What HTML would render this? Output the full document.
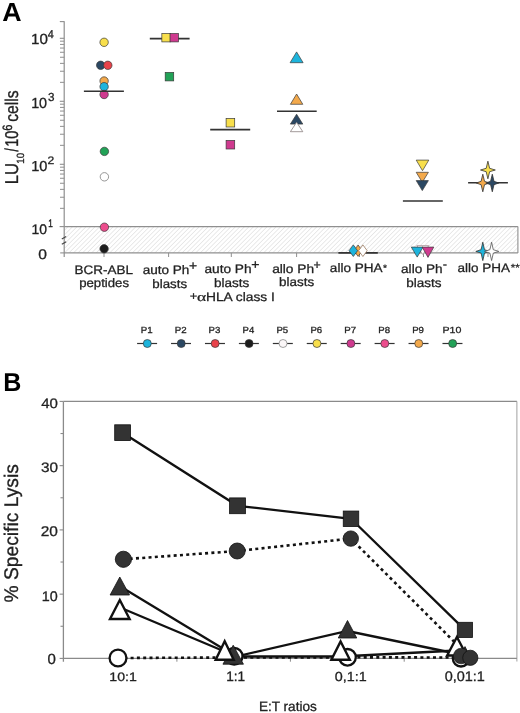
<!DOCTYPE html>
<html><head><meta charset="utf-8"><style>
html,body{margin:0;padding:0;background:#fff;width:520px;height:713px;overflow:hidden;}
svg{display:block;will-change:transform;text-rendering:geometricPrecision;}

</style></head><body>
<svg width="520" height="713" viewBox="0 0 520 713">
<defs><pattern id="h" patternUnits="userSpaceOnUse" width="3.2" height="3.2" patternTransform="rotate(45)"><line x1="0" y1="0" x2="0" y2="3.2" stroke="#d6d6d6" stroke-width="1"/></pattern></defs>
<rect width="520" height="713" fill="#fff"/>
<rect x="64.2" y="226.6" width="453.7" height="26.3" fill="url(#h)"/>
<line x1="64.2" y1="226.6" x2="517.9" y2="226.6" stroke="#8f8f8f" stroke-width="1.3"/>
<line x1="64.2" y1="252.9" x2="517.9" y2="252.9" stroke="#8f8f8f" stroke-width="1.3"/>
<line x1="517.9" y1="226.6" x2="517.9" y2="252.9" stroke="#8f8f8f" stroke-width="1.1"/>
<line x1="64.2" y1="21.2" x2="64.2" y2="257" stroke="#8f8f8f" stroke-width="1.2"/>
<line x1="59.8" y1="38.3" x2="64.2" y2="38.3" stroke="#8f8f8f" stroke-width="1.1"/>
<line x1="60" y1="82.34" x2="64.2" y2="82.34" stroke="#8f8f8f" stroke-width="1.0"/>
<line x1="60" y1="71.24" x2="64.2" y2="71.24" stroke="#8f8f8f" stroke-width="1.0"/>
<line x1="60" y1="63.37" x2="64.2" y2="63.37" stroke="#8f8f8f" stroke-width="1.0"/>
<line x1="60" y1="57.26" x2="64.2" y2="57.26" stroke="#8f8f8f" stroke-width="1.0"/>
<line x1="60" y1="52.28" x2="64.2" y2="52.28" stroke="#8f8f8f" stroke-width="1.0"/>
<line x1="60" y1="48.06" x2="64.2" y2="48.06" stroke="#8f8f8f" stroke-width="1.0"/>
<line x1="60" y1="44.41" x2="64.2" y2="44.41" stroke="#8f8f8f" stroke-width="1.0"/>
<line x1="60" y1="41.18" x2="64.2" y2="41.18" stroke="#8f8f8f" stroke-width="1.0"/>
<line x1="59.8" y1="101.3" x2="64.2" y2="101.3" stroke="#8f8f8f" stroke-width="1.1"/>
<line x1="60" y1="145.34" x2="64.2" y2="145.34" stroke="#8f8f8f" stroke-width="1.0"/>
<line x1="60" y1="134.24" x2="64.2" y2="134.24" stroke="#8f8f8f" stroke-width="1.0"/>
<line x1="60" y1="126.37" x2="64.2" y2="126.37" stroke="#8f8f8f" stroke-width="1.0"/>
<line x1="60" y1="120.26" x2="64.2" y2="120.26" stroke="#8f8f8f" stroke-width="1.0"/>
<line x1="60" y1="115.28" x2="64.2" y2="115.28" stroke="#8f8f8f" stroke-width="1.0"/>
<line x1="60" y1="111.06" x2="64.2" y2="111.06" stroke="#8f8f8f" stroke-width="1.0"/>
<line x1="60" y1="107.41" x2="64.2" y2="107.41" stroke="#8f8f8f" stroke-width="1.0"/>
<line x1="60" y1="104.18" x2="64.2" y2="104.18" stroke="#8f8f8f" stroke-width="1.0"/>
<line x1="59.8" y1="164.3" x2="64.2" y2="164.3" stroke="#8f8f8f" stroke-width="1.1"/>
<line x1="60" y1="208.34" x2="64.2" y2="208.34" stroke="#8f8f8f" stroke-width="1.0"/>
<line x1="60" y1="197.24" x2="64.2" y2="197.24" stroke="#8f8f8f" stroke-width="1.0"/>
<line x1="60" y1="189.37" x2="64.2" y2="189.37" stroke="#8f8f8f" stroke-width="1.0"/>
<line x1="60" y1="183.26" x2="64.2" y2="183.26" stroke="#8f8f8f" stroke-width="1.0"/>
<line x1="60" y1="178.28" x2="64.2" y2="178.28" stroke="#8f8f8f" stroke-width="1.0"/>
<line x1="60" y1="174.06" x2="64.2" y2="174.06" stroke="#8f8f8f" stroke-width="1.0"/>
<line x1="60" y1="170.41" x2="64.2" y2="170.41" stroke="#8f8f8f" stroke-width="1.0"/>
<line x1="60" y1="167.18" x2="64.2" y2="167.18" stroke="#8f8f8f" stroke-width="1.0"/>
<line x1="59.8" y1="21.6" x2="64.2" y2="21.6" stroke="#8f8f8f" stroke-width="1.1"/>
<line x1="59.6" y1="226.6" x2="64.2" y2="226.6" stroke="#8f8f8f" stroke-width="1.1"/>
<line x1="60.2" y1="252.9" x2="64.2" y2="252.9" stroke="#8f8f8f" stroke-width="1.1"/>
<path d="M61.8,239 L66.2,236.6 M61.8,244.2 L66.2,241.8" stroke="#444" stroke-width="1.1" fill="none"/>
<line x1="104" y1="252.9" x2="104" y2="257" stroke="#8f8f8f" stroke-width="1.0"/>
<line x1="168.6" y1="252.9" x2="168.6" y2="257" stroke="#8f8f8f" stroke-width="1.0"/>
<line x1="231.3" y1="252.9" x2="231.3" y2="257" stroke="#8f8f8f" stroke-width="1.0"/>
<line x1="296.6" y1="252.9" x2="296.6" y2="257" stroke="#8f8f8f" stroke-width="1.0"/>
<line x1="359.5" y1="252.9" x2="359.5" y2="257" stroke="#8f8f8f" stroke-width="1.0"/>
<line x1="423.5" y1="252.9" x2="423.5" y2="257" stroke="#8f8f8f" stroke-width="1.0"/>
<line x1="488" y1="252.9" x2="488" y2="257" stroke="#8f8f8f" stroke-width="1.0"/>
<circle cx="104.1" cy="42.3" r="4.2" fill="#f8df4c" stroke="#3a3a3a" stroke-width="0.7"/>
<circle cx="100.7" cy="65.3" r="4.2" fill="#2b4863" stroke="#3a3a3a" stroke-width="0.7"/>
<circle cx="107.8" cy="65.3" r="4.2" fill="#e8424a" stroke="#3a3a3a" stroke-width="0.7"/>
<circle cx="104.1" cy="81" r="4.2" fill="#f3a94b" stroke="#3a3a3a" stroke-width="0.7"/>
<circle cx="104.1" cy="86.7" r="4.2" fill="#1db4dc" stroke="#3a3a3a" stroke-width="0.7"/>
<circle cx="104.1" cy="94.5" r="4.2" fill="#cf3a8f" stroke="#3a3a3a" stroke-width="0.7"/>
<line x1="83.9" y1="91.2" x2="123.9" y2="91.2" stroke="#333" stroke-width="1.6"/>
<circle cx="104.4" cy="151.4" r="4.2" fill="#22a257" stroke="#3a3a3a" stroke-width="0.7"/>
<circle cx="104.4" cy="176.8" r="4.2" fill="#fff" stroke="#8a8a8a" stroke-width="0.9"/>
<circle cx="104.4" cy="227.2" r="4.2" fill="#ec4d8d" stroke="#3a3a3a" stroke-width="0.7"/>
<circle cx="104.1" cy="248.8" r="4.2" fill="#1c1c1c" stroke="#3a3a3a" stroke-width="0.7"/>
<line x1="149.8" y1="38.6" x2="189.6" y2="38.6" stroke="#333" stroke-width="1.6"/>
<rect x="161.85" y="33.5" width="8.4" height="8.4" fill="#f8df4c" stroke="#3a3a3a" stroke-width="0.7"/>
<rect x="170.05" y="33.5" width="8.4" height="8.4" fill="#cf3a8f" stroke="#3a3a3a" stroke-width="0.7"/>
<rect x="165.2" y="72.4" width="8.5" height="8.5" fill="#22a257" stroke="#3a3a3a" stroke-width="0.7"/>
<rect x="226.1" y="118.4" width="8.6" height="8.6" fill="#f8df4c" stroke="#3a3a3a" stroke-width="0.7"/>
<line x1="210.2" y1="129.6" x2="250.2" y2="129.6" stroke="#333" stroke-width="1.6"/>
<rect x="226.1" y="140.4" width="8.6" height="8.6" fill="#cf3a8f" stroke="#3a3a3a" stroke-width="0.7"/>
<path d="M296.6,51.9L303.1,62.7L290.1,62.7Z" fill="#1db4dc" stroke="#3a3a3a" stroke-width="0.7"/>
<path d="M296.6,94L302.8,104.3L290.4,104.3Z" fill="#f3a94b" stroke="#3a3a3a" stroke-width="0.7"/>
<line x1="277" y1="111.3" x2="316.7" y2="111.3" stroke="#333" stroke-width="1.6"/>
<path d="M296.6,114.2L302.8,124.1L290.4,124.1Z" fill="#2b4863" stroke="#3a3a3a" stroke-width="0.7"/>
<path d="M296.6,122.3L302.8,131.7L290.4,131.7Z" fill="#fff" stroke="#8a8080" stroke-width="0.8"/>
<line x1="338.4" y1="252.9" x2="377.8" y2="252.9" stroke="#333" stroke-width="1.6"/>
<path d="M358.1,245L362.3,250.7L358.1,256.4L353.9,250.7Z" fill="#f3a94b" stroke="#3a3a3a" stroke-width="0.7"/>
<path d="M353.3,244.9L357.6,250.7L353.3,256.5L349,250.7Z" fill="#1db4dc" stroke="#3a3a3a" stroke-width="0.7"/>
<path d="M362.9,244.9L367.2,250.7L362.9,256.5L358.6,250.7Z" fill="#fff" stroke="#9a7a60" stroke-width="0.8"/>
<path d="M416.2,160.1L428.8,160.1L422.5,170.7Z" fill="#f8df4c" stroke="#3a3a3a" stroke-width="0.7"/>
<path d="M416.2,172.3L428.4,172.3L422.3,182.3Z" fill="#f3a94b" stroke="#3a3a3a" stroke-width="0.7"/>
<path d="M416.2,180.6L428.4,180.6L422.3,190.6Z" fill="#2b4863" stroke="#3a3a3a" stroke-width="0.7"/>
<line x1="402.9" y1="201" x2="442.8" y2="201" stroke="#333" stroke-width="1.6"/>
<path d="M416.8,245.5L428.8,245.5L422.8,254.5Z" fill="#fff" stroke="#b09aa0" stroke-width="0.8"/>
<path d="M411.3,247.1L423.1,247.1L417.2,257.1Z" fill="#1db4dc" stroke="#3a3a3a" stroke-width="0.7"/>
<path d="M422.2,247.1L433.8,247.1L428,257.4Z" fill="#cf3a8f" stroke="#3a3a3a" stroke-width="0.7"/>
<line x1="468.1" y1="182.7" x2="507.9" y2="182.7" stroke="#333" stroke-width="1.6"/>
<path d="M487.9,161.2L489.6,168.3L495.3,170L489.6,171.7L487.9,178.8L486.2,171.7L480.5,170L486.2,168.3Z" fill="#f8df4c" stroke="#333" stroke-width="0.8" stroke-linejoin="round"/>
<path d="M482.8,174.2L484.5,181.3L489.3,183L484.5,184.7L482.8,191.8L481.1,184.7L476.3,183L481.1,181.3Z" fill="#f3a94b" stroke="#333" stroke-width="0.8" stroke-linejoin="round"/>
<path d="M492.3,174.2L494,181.3L498.8,183L494,184.7L492.3,191.8L490.6,184.7L485.8,183L490.6,181.3Z" fill="#2b4863" stroke="#333" stroke-width="0.8" stroke-linejoin="round"/>
<path d="M482.8,242.2L484.5,249.7L489.8,251.4L484.5,253.1L482.8,260.6L481.1,253.1L475.8,251.4L481.1,249.7Z" fill="#1db4dc" stroke="#333" stroke-width="0.8" stroke-linejoin="round"/>
<path d="M491.6,242.2L493.3,249.7L498.8,251.4L493.3,253.1L491.6,260.6L489.9,253.1L484.4,251.4L489.9,249.7Z" fill="#fff" stroke="#555" stroke-width="0.8" stroke-linejoin="round"/>
<line x1="137.1" y1="343.5" x2="157.1" y2="343.5" stroke="#333" stroke-width="1.2"/>
<circle cx="147.3" cy="343.5" r="4" fill="#1db4dc" stroke="#3a3a3a" stroke-width="0.7"/>
<line x1="171.03" y1="343.5" x2="191.03" y2="343.5" stroke="#333" stroke-width="1.2"/>
<circle cx="181.23" cy="343.5" r="4" fill="#2b4863" stroke="#3a3a3a" stroke-width="0.7"/>
<line x1="204.96" y1="343.5" x2="224.96" y2="343.5" stroke="#333" stroke-width="1.2"/>
<circle cx="215.16" cy="343.5" r="4" fill="#e8424a" stroke="#3a3a3a" stroke-width="0.7"/>
<line x1="238.89" y1="343.5" x2="258.89" y2="343.5" stroke="#333" stroke-width="1.2"/>
<circle cx="249.09" cy="343.5" r="4" fill="#1c1c1c" stroke="#3a3a3a" stroke-width="0.7"/>
<line x1="272.82" y1="343.5" x2="292.82" y2="343.5" stroke="#333" stroke-width="1.2"/>
<circle cx="283.02" cy="343.5" r="4" fill="#fbf7f8" stroke="#8a8a8a" stroke-width="0.8"/>
<line x1="306.75" y1="343.5" x2="326.75" y2="343.5" stroke="#333" stroke-width="1.2"/>
<circle cx="316.95" cy="343.5" r="4" fill="#f8df4c" stroke="#3a3a3a" stroke-width="0.7"/>
<line x1="340.68" y1="343.5" x2="360.68" y2="343.5" stroke="#333" stroke-width="1.2"/>
<circle cx="350.88" cy="343.5" r="4" fill="#cf3a8f" stroke="#3a3a3a" stroke-width="0.7"/>
<line x1="374.61" y1="343.5" x2="394.61" y2="343.5" stroke="#333" stroke-width="1.2"/>
<circle cx="384.81" cy="343.5" r="4" fill="#ec4d8d" stroke="#3a3a3a" stroke-width="0.7"/>
<line x1="408.54" y1="343.5" x2="428.54" y2="343.5" stroke="#333" stroke-width="1.2"/>
<circle cx="418.74" cy="343.5" r="4" fill="#f3a94b" stroke="#3a3a3a" stroke-width="0.7"/>
<line x1="442.47" y1="343.5" x2="462.47" y2="343.5" stroke="#333" stroke-width="1.2"/>
<circle cx="452.67" cy="343.5" r="4" fill="#22a257" stroke="#3a3a3a" stroke-width="0.7"/>
<line x1="63.4" y1="401.4" x2="516.9" y2="401.4" stroke="#8a8a8a" stroke-width="1.2"/>
<line x1="516.9" y1="401.4" x2="516.9" y2="661.5" stroke="#a0a0a0" stroke-width="1.0"/>
<line x1="63.4" y1="401.4" x2="63.4" y2="661.7" stroke="#8a8a8a" stroke-width="1.3"/>
<line x1="63.4" y1="658.4" x2="516.9" y2="658.4" stroke="#8a8a8a" stroke-width="1.3"/>
<line x1="59.6" y1="658.4" x2="63.4" y2="658.4" stroke="#8a8a8a" stroke-width="1.1"/>
<line x1="60.5" y1="626.27" x2="63.4" y2="626.27" stroke="#8a8a8a" stroke-width="1.1"/>
<line x1="59.6" y1="594.15" x2="63.4" y2="594.15" stroke="#8a8a8a" stroke-width="1.1"/>
<line x1="60.5" y1="562.02" x2="63.4" y2="562.02" stroke="#8a8a8a" stroke-width="1.1"/>
<line x1="59.6" y1="529.9" x2="63.4" y2="529.9" stroke="#8a8a8a" stroke-width="1.1"/>
<line x1="60.5" y1="497.77" x2="63.4" y2="497.77" stroke="#8a8a8a" stroke-width="1.1"/>
<line x1="59.6" y1="465.65" x2="63.4" y2="465.65" stroke="#8a8a8a" stroke-width="1.1"/>
<line x1="60.5" y1="433.52" x2="63.4" y2="433.52" stroke="#8a8a8a" stroke-width="1.1"/>
<line x1="59.6" y1="401.4" x2="63.4" y2="401.4" stroke="#8a8a8a" stroke-width="1.1"/>
<line x1="176.9" y1="658.4" x2="176.9" y2="661.7" stroke="#8a8a8a" stroke-width="1.0"/>
<line x1="290.4" y1="658.4" x2="290.4" y2="661.7" stroke="#8a8a8a" stroke-width="1.0"/>
<line x1="404.2" y1="658.4" x2="404.2" y2="661.7" stroke="#8a8a8a" stroke-width="1.0"/>
<polyline points="118,658 234,657.5 347.5,657.3 461,657.5" fill="none" stroke="#111" stroke-width="2.6" stroke-dasharray="3 3.3"/>
<polyline points="120,607.5 224.6,651.5 240,656.5 340.6,656.5 457,650.5" fill="none" stroke="#111" stroke-width="2.3"/>
<polyline points="120,586.3 236,656.5 347.5,631 463,655" fill="none" stroke="#111" stroke-width="2.3"/>
<polyline points="123.4,559.3 237.2,551 350.8,538.6 470.3,657.8" fill="none" stroke="#111" stroke-width="2.6" stroke-dasharray="3 3.3"/>
<polyline points="122.6,432.7 237.5,505.8 351,518.8 464.9,629.9" fill="none" stroke="#111" stroke-width="2.3"/>
<rect x="114.7" y="424.8" width="15.8" height="15.8" fill="#333" stroke="#111" stroke-width="0.8"/>
<circle cx="123.4" cy="559.3" r="8.1" fill="#333" stroke="#111" stroke-width="0.8"/>
<path d="M119.8,577L129.5,595L110.1,595Z" fill="#333" stroke="#111" stroke-width="0.8" stroke-linejoin="miter"/>
<path d="M119.8,600L129.6,619L110,619Z" fill="#fff" stroke="#111" stroke-width="2.4" stroke-linejoin="miter"/>
<circle cx="118" cy="658" r="8.4" fill="#fff" stroke="#111" stroke-width="2.3"/>
<rect x="229.6" y="497.9" width="15.8" height="15.8" fill="#333" stroke="#111" stroke-width="0.8"/>
<circle cx="237.2" cy="551" r="8" fill="#333" stroke="#111" stroke-width="0.8"/>
<circle cx="234.2" cy="656.3" r="8.3" fill="#fff" stroke="#111" stroke-width="2.3"/>
<path d="M233.2,645.2L243.45,664.2L222.95,664.2Z" fill="#333" stroke="#111" stroke-width="0.8" stroke-linejoin="miter"/>
<path d="M224.7,641.3L233.7,659.7L215.7,659.7Z" fill="#fff" stroke="#111" stroke-width="2.4" stroke-linejoin="miter"/>
<rect x="343.25" y="511.05" width="15.5" height="15.5" fill="#333" stroke="#111" stroke-width="0.8"/>
<circle cx="350.8" cy="538.6" r="7.7" fill="#333" stroke="#111" stroke-width="0.8"/>
<path d="M347.5,620.5L356.75,638L338.25,638Z" fill="#333" stroke="#111" stroke-width="0.8" stroke-linejoin="miter"/>
<circle cx="347.5" cy="657.3" r="8.3" fill="#fff" stroke="#111" stroke-width="2.3"/>
<path d="M340.6,641.5L349.85,659.8L331.35,659.8Z" fill="#fff" stroke="#111" stroke-width="2.4" stroke-linejoin="miter"/>
<rect x="457.3" y="622.3" width="15.2" height="15.2" fill="#333" stroke="#111" stroke-width="0.8"/>
<circle cx="461" cy="658.3" r="8.2" fill="#fff" stroke="#111" stroke-width="2.3"/>
<path d="M465,646.6L473,662.6L457,662.6Z" fill="#333" stroke="#111" stroke-width="0.8" stroke-linejoin="miter"/>
<path d="M456.9,637L466.65,655.5L447.15,655.5Z" fill="#fff" stroke="#111" stroke-width="2.4" stroke-linejoin="miter"/>
<circle cx="461.2" cy="656" r="7.8" fill="#333" stroke="#111" stroke-width="0.6"/>
<circle cx="470.3" cy="657.8" r="7.6" fill="#333" stroke="#111" stroke-width="0.8"/>
<text transform="translate(2.30,21.06) scale(1.019,1)" font-family="'Liberation Sans', sans-serif" font-weight="bold" font-size="26.32" fill="#000">A</text>
<text transform="translate(3.14,390.80) scale(0.967,1)" font-family="'Liberation Sans', sans-serif" font-weight="bold" font-size="25.94" fill="#000">B</text>
<text transform="translate(31.09,44.05) scale(1.034,1)" font-family="'Liberation Sans', sans-serif" font-size="14.65" fill="#222" stroke="#222" stroke-width="0.29">10</text>
<text transform="translate(47.78,37.81) scale(0.952,1)" font-family="'Liberation Sans', sans-serif" font-size="11.32" fill="#222" stroke="#222" stroke-width="0.32">4</text>
<text transform="translate(31.15,107.75) scale(0.979,1)" font-family="'Liberation Sans', sans-serif" font-size="14.65" fill="#222" stroke="#222" stroke-width="0.31">10</text>
<text transform="translate(48.03,101.38) scale(1.001,1)" font-family="'Liberation Sans', sans-serif" font-size="11.69" fill="#222" stroke="#222" stroke-width="0.30">3</text>
<text transform="translate(31.13,170.85) scale(1.006,1)" font-family="'Liberation Sans', sans-serif" font-size="14.51" fill="#222" stroke="#222" stroke-width="0.30">10</text>
<text transform="translate(47.59,164.10) scale(1.121,1)" font-family="'Liberation Sans', sans-serif" font-size="10.86" fill="#222" stroke="#222" stroke-width="0.27">2</text>
<text transform="translate(31.38,233.56) scale(1.000,1)" font-family="'Liberation Sans', sans-serif" font-size="13.94" fill="#222" stroke="#222" stroke-width="0.30">10</text>
<text transform="translate(48.35,226.50) scale(0.749,1)" font-family="'Liberation Sans', sans-serif" font-size="10.87" fill="#222" stroke="#222" stroke-width="0.40">1</text>
<text transform="translate(38.17,258.86) scale(1.132,1)" font-family="'Liberation Sans', sans-serif" font-size="13.80" fill="#222" stroke="#222" stroke-width="0.27">0</text>
<text transform="translate(17.91,184.33) rotate(-90) scale(0.894,1)" font-family="'Liberation Sans', sans-serif" font-size="18.57" fill="#222" stroke="#222" stroke-width="0.34">LU</text>
<text transform="translate(23.50,163.78) rotate(-90) scale(0.940,1)" font-family="'Liberation Sans', sans-serif" font-size="10.42" fill="#222" stroke="#222" stroke-width="0.32">10</text>
<text transform="translate(17.90,151.50) rotate(-90) scale(0.613,1)" font-family="'Liberation Sans', sans-serif" font-size="18.63" fill="#222" stroke="#222" stroke-width="0.49">/</text>
<text transform="translate(18.01,146.86) rotate(-90) scale(0.785,1)" font-family="'Liberation Sans', sans-serif" font-size="18.52" fill="#222" stroke="#222" stroke-width="0.38">10</text>
<text transform="translate(11.76,130.65) rotate(-90) scale(0.820,1)" font-family="'Liberation Sans', sans-serif" font-size="13.52" fill="#222" stroke="#222" stroke-width="0.37">6</text>
<text transform="translate(18.02,121.73) rotate(-90) scale(0.853,1)" font-family="'Liberation Sans', sans-serif" font-size="18.38" fill="#222" stroke="#222" stroke-width="0.35">cells</text>
<text transform="translate(74.57,273.90) scale(1.095,1)" font-family="'Liberation Sans', sans-serif" font-size="12.32" fill="#222" stroke="#222" stroke-width="0.27">BCR-ABL</text>
<text transform="translate(79.18,287.30) scale(1.071,1)" font-family="'Liberation Sans', sans-serif" font-size="12.32" fill="#222" stroke="#222" stroke-width="0.28">peptides</text>
<text transform="translate(142.66,274.10) scale(1.101,1)" font-family="'Liberation Sans', sans-serif" font-size="12.32" fill="#222" stroke="#222" stroke-width="0.27">auto Ph</text>
<text transform="translate(189.10,270.18) scale(1.069,1)" font-family="'Liberation Sans', sans-serif" font-size="13.06" fill="#222" stroke="#222" stroke-width="0.28">+</text>
<text transform="translate(152.37,288.00) scale(1.080,1)" font-family="'Liberation Sans', sans-serif" font-size="12.32" fill="#222" stroke="#222" stroke-width="0.28">blasts</text>
<text transform="translate(204.45,272.50) scale(1.111,1)" font-family="'Liberation Sans', sans-serif" font-size="12.32" fill="#222" stroke="#222" stroke-width="0.27">auto Ph</text>
<text transform="translate(251.19,269.29) scale(1.068,1)" font-family="'Liberation Sans', sans-serif" font-size="13.27" fill="#222" stroke="#222" stroke-width="0.28">+</text>
<text transform="translate(213.95,286.60) scale(1.100,1)" font-family="'Liberation Sans', sans-serif" font-size="12.32" fill="#222" stroke="#222" stroke-width="0.27">blasts</text>
<text transform="translate(189.85,300.37) scale(1.091,1)" font-family="'Liberation Sans', sans-serif" font-size="11.84" fill="#222" stroke="#222" stroke-width="0.27">+</text>
<text transform="translate(197.10,300.87) scale(1.386,1)" font-family="'Liberation Serif', serif" font-size="12.71" fill="#222" stroke="#222" stroke-width="0.22">α</text>
<text transform="translate(206.00,300.90) scale(1.118,1)" font-family="'Liberation Sans', sans-serif" font-size="12.32" fill="#222" stroke="#222" stroke-width="0.27">HLA class I</text>
<text transform="translate(272.15,272.70) scale(1.114,1)" font-family="'Liberation Sans', sans-serif" font-size="12.32" fill="#222" stroke="#222" stroke-width="0.27">allo Ph</text>
<text transform="translate(313.39,269.12) scale(0.987,1)" font-family="'Liberation Sans', sans-serif" font-size="12.45" fill="#222" stroke="#222" stroke-width="0.30">+</text>
<text transform="translate(279.06,286.10) scale(1.090,1)" font-family="'Liberation Sans', sans-serif" font-size="12.32" fill="#222" stroke="#222" stroke-width="0.28">blasts</text>
<text transform="translate(329.86,272.20) scale(1.099,1)" font-family="'Liberation Sans', sans-serif" font-size="12.32" fill="#222" stroke="#222" stroke-width="0.27">allo PHA</text>
<text transform="translate(382.89,270.61) scale(1.125,1)" font-family="'Liberation Sans', sans-serif" font-size="9.14" fill="#222" stroke="#222" stroke-width="0.27">*</text>
<text transform="translate(401.06,272.50) scale(1.103,1)" font-family="'Liberation Sans', sans-serif" font-size="12.32" fill="#222" stroke="#222" stroke-width="0.27">allo Ph</text>
<text transform="translate(443.07,268.16) scale(0.726,1)" font-family="'Liberation Sans', sans-serif" font-size="9.00" fill="#222" stroke="#222" stroke-width="0.41">−</text>
<text transform="translate(406.35,286.50) scale(1.096,1)" font-family="'Liberation Sans', sans-serif" font-size="12.32" fill="#222" stroke="#222" stroke-width="0.27">blasts</text>
<text transform="translate(457.56,272.20) scale(1.096,1)" font-family="'Liberation Sans', sans-serif" font-size="12.32" fill="#222" stroke="#222" stroke-width="0.27">allo PHA</text>
<text transform="translate(510.67,271.40) scale(1.117,1)" font-family="'Liberation Sans', sans-serif" font-size="10.29" fill="#222" stroke="#222" stroke-width="0.27">**</text>
<text transform="translate(140.72,332.90) scale(1.100,1)" font-family="'Liberation Sans', sans-serif" font-size="8.84" fill="#222" stroke="#222" stroke-width="0.27">P1</text>
<text transform="translate(174.65,332.90) scale(1.100,1)" font-family="'Liberation Sans', sans-serif" font-size="8.84" fill="#222" stroke="#222" stroke-width="0.27">P2</text>
<text transform="translate(208.59,332.90) scale(1.090,1)" font-family="'Liberation Sans', sans-serif" font-size="8.84" fill="#222" stroke="#222" stroke-width="0.28">P3</text>
<text transform="translate(242.53,332.90) scale(1.080,1)" font-family="'Liberation Sans', sans-serif" font-size="8.84" fill="#222" stroke="#222" stroke-width="0.28">P4</text>
<text transform="translate(276.45,332.90) scale(1.090,1)" font-family="'Liberation Sans', sans-serif" font-size="8.84" fill="#222" stroke="#222" stroke-width="0.28">P5</text>
<text transform="translate(310.38,332.90) scale(1.090,1)" font-family="'Liberation Sans', sans-serif" font-size="8.84" fill="#222" stroke="#222" stroke-width="0.28">P6</text>
<text transform="translate(344.30,332.90) scale(1.100,1)" font-family="'Liberation Sans', sans-serif" font-size="8.84" fill="#222" stroke="#222" stroke-width="0.27">P7</text>
<text transform="translate(378.24,332.90) scale(1.090,1)" font-family="'Liberation Sans', sans-serif" font-size="8.84" fill="#222" stroke="#222" stroke-width="0.28">P8</text>
<text transform="translate(412.17,332.90) scale(1.090,1)" font-family="'Liberation Sans', sans-serif" font-size="8.84" fill="#222" stroke="#222" stroke-width="0.28">P9</text>
<text transform="translate(442.47,332.90) scale(1.206,1)" font-family="'Liberation Sans', sans-serif" font-size="8.84" fill="#222" stroke="#222" stroke-width="0.25">P10</text>
<text transform="translate(41.20,407.66) scale(1.101,1)" font-family="'Liberation Sans', sans-serif" font-size="13.66" fill="#222" stroke="#222" stroke-width="0.27">40</text>
<text transform="translate(40.89,471.86) scale(1.123,1)" font-family="'Liberation Sans', sans-serif" font-size="13.66" fill="#222" stroke="#222" stroke-width="0.27">30</text>
<text transform="translate(40.73,536.16) scale(1.100,1)" font-family="'Liberation Sans', sans-serif" font-size="14.08" fill="#222" stroke="#222" stroke-width="0.27">20</text>
<text transform="translate(41.75,600.56) scale(1.029,1)" font-family="'Liberation Sans', sans-serif" font-size="13.94" fill="#222" stroke="#222" stroke-width="0.29">10</text>
<text transform="translate(47.50,664.45) scale(1.024,1)" font-family="'Liberation Sans', sans-serif" font-size="14.65" fill="#222" stroke="#222" stroke-width="0.29">0</text>
<text transform="translate(109.37,680.88) scale(1.152,1)" font-family="'Liberation Sans', sans-serif" font-size="12.25" fill="#222" stroke="#222" stroke-width="0.26">10:1</text>
<text transform="translate(226.21,681.30) scale(0.991,1)" font-family="'Liberation Sans', sans-serif" font-size="13.77" fill="#222" stroke="#222" stroke-width="0.30">1:1</text>
<text transform="translate(334.73,680.69) scale(1.094,1)" font-family="'Liberation Sans', sans-serif" font-size="13.13" fill="#222" stroke="#222" stroke-width="0.27">0,1:1</text>
<text transform="translate(444.72,680.99) scale(1.039,1)" font-family="'Liberation Sans', sans-serif" font-size="13.92" fill="#222" stroke="#222" stroke-width="0.29">0,01:1</text>
<text transform="translate(258.91,710.60) scale(1.003,1)" font-family="'Liberation Sans', sans-serif" font-size="13.55" fill="#222" stroke="#222" stroke-width="0.30">E:T ratios</text>
<text transform="translate(18.20,602.47) rotate(-90) scale(0.977,1)" font-family="'Liberation Sans', sans-serif" font-size="19.71" fill="#222" stroke="#222" stroke-width="0.31">% Specific Lysis</text>
</svg>
</body></html>
